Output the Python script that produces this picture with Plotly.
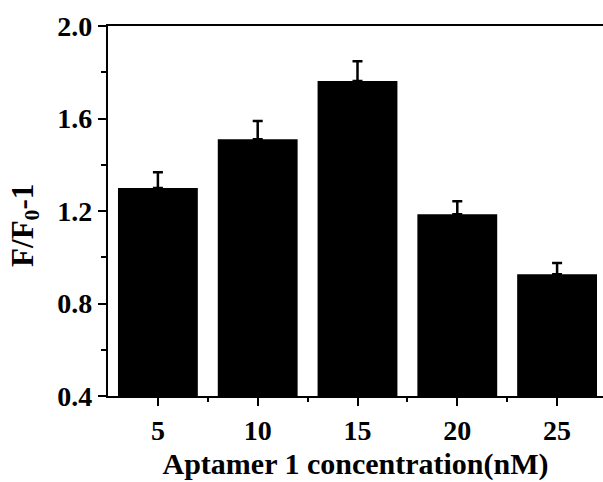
import plotly.graph_objects as go

concentrations = [5, 10, 15, 20, 25]
values = [1.30, 1.51, 1.762, 1.186, 0.926]
errors = [0.068, 0.079, 0.086, 0.056, 0.049]
y_ticks = [0.4, 0.8, 1.2, 1.6, 2.0]
y_ticklabels = ["0.4", "0.8", "1.2", "1.6", "2.0"]

FONT = "Liberation Serif, Times New Roman, serif"

fig = go.Figure()
fig.add_trace(go.Bar(
    x=concentrations, y=values, width=4,
    marker=dict(color="black", line=dict(width=0)),
    error_y=dict(type="data", symmetric=False, array=errors,
                 arrayminus=[0] * len(errors), color="black",
                 thickness=2.5, width=5),
))

fig.update_layout(
    width=603, height=482,
    margin=dict(l=108, r=0, t=26, b=86),
    plot_bgcolor="white", paper_bgcolor="white",
    showlegend=False,
    font=dict(family=FONT, color="black"),
)
fig.update_xaxes(
    range=[2.5, 27.3], tickvals=concentrations,
    ticktext=[str(c) for c in concentrations],
    showline=True, linecolor="black", linewidth=2.2, mirror=True,
    ticks="outside", ticklen=8, tickwidth=2, tickcolor="black",
    minor=dict(tickvals=[7.5, 12.5, 17.5, 22.5], ticks="outside",
               ticklen=4, tickwidth=2, tickcolor="black"),
    showgrid=False, zeroline=False,
    tickfont=dict(family=FONT, size=28, weight="bold"),
    title=dict(text="Aptamer 1 concentration(nM)", standoff=8,
               font=dict(family=FONT, size=30, weight="bold")),
)
fig.update_yaxes(
    range=[0.4, 2.0], tickvals=y_ticks, ticktext=y_ticklabels,
    showline=True, linecolor="black", linewidth=2.2, mirror=False,
    ticks="outside", ticklen=8, tickwidth=2, tickcolor="black",
    minor=dict(tickvals=[0.6, 1.0, 1.4, 1.8], ticks="outside",
               ticklen=5, tickwidth=2, tickcolor="black"),
    showgrid=False, zeroline=False,
    tickfont=dict(family=FONT, size=28, weight="bold"),
)
fig.add_annotation(
    text="F/F<sub>0</sub>-1", textangle=-90,
    xref="paper", yref="paper", x=-0.168, y=0.462,
    xanchor="center", yanchor="middle", showarrow=False,
    font=dict(family=FONT, size=31, weight="bold", color="black"),
)

fig.write_html("out.html")
